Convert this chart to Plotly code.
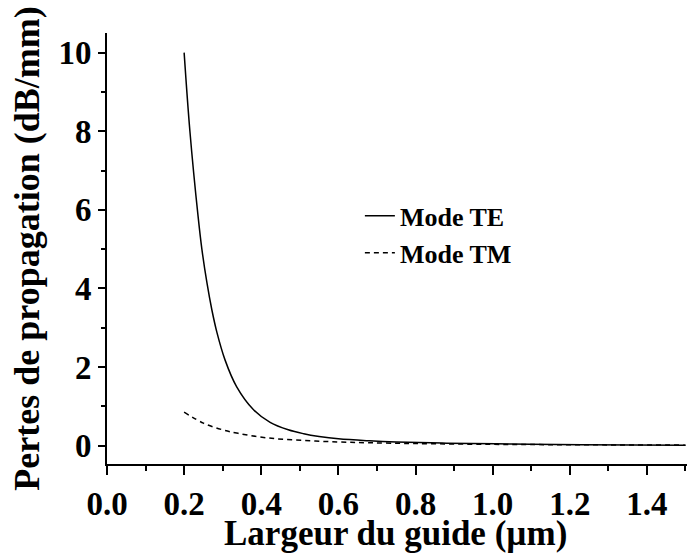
import plotly.graph_objects as go

# Propagation losses versus guide width
width_te = [0.20, 0.215, 0.236, 0.246, 0.259, 0.272, 0.285, 0.306, 0.336, 0.38,
            0.423, 0.47, 0.51, 0.55, 0.60, 0.68, 0.75, 0.88, 1.05, 1.23, 1.5]
loss_te = [10.0, 8.0, 5.85, 5.0, 4.15, 3.45, 2.88, 2.18, 1.50, 0.91,
           0.59, 0.40, 0.30, 0.23, 0.17, 0.12, 0.09, 0.06, 0.04, 0.02, 0.01]

width_tm = [0.20, 0.25, 0.30, 0.34, 0.42, 0.51, 0.60, 0.68, 0.80, 1.0, 1.2, 1.5]
loss_tm = [0.85, 0.57, 0.40, 0.31, 0.19, 0.13, 0.09, 0.07, 0.05, 0.03, 0.02, 0.01]

x_ticks = [0.0, 0.2, 0.4, 0.6, 0.8, 1.0, 1.2, 1.4]
y_ticks = [0, 2, 4, 6, 8, 10]

FONT = "Liberation Serif, Times New Roman, serif"

fig = go.Figure()
fig.add_trace(go.Scatter(
    x=width_te, y=loss_te, mode="lines", name="Mode TE",
    line=dict(color="black", width=1.5, shape="spline", smoothing=1.0),
))
fig.add_trace(go.Scatter(
    x=width_tm, y=loss_tm, mode="lines", name="Mode TM",
    line=dict(color="black", width=1.5, dash="5px,4px", shape="spline", smoothing=1.0),
))

axis_common = dict(
    showline=True, linecolor="black", linewidth=2, mirror=False,
    showgrid=False, zeroline=False, automargin=False,
    ticks="outside", tickcolor="black", tickwidth=1.5,
    tickfont=dict(family=FONT, size=33, color="black", weight="bold"),
)

fig.update_layout(
    width=688, height=553,
    margin=dict(l=107, r=1, t=33, b=89),
    paper_bgcolor="white", plot_bgcolor="white",
    font=dict(family=FONT, color="black"),
    xaxis=dict(
        **axis_common,
        range=[0, 1.504], tickmode="array", tickvals=x_ticks,
        ticktext=[f"<b>{v:.1f}</b>" for v in x_ticks], ticklen=9,
        minor=dict(dtick=0.1, tick0=0, ticks="outside", ticklen=5,
                   tickcolor="black", tickwidth=1.5),
    ),
    yaxis=dict(
        **axis_common,
        range=[-0.47, 10.5], tickmode="array", tickvals=y_ticks,
        ticktext=[f"<b>{v}</b>" for v in y_ticks], ticklen=7,
        minor=dict(dtick=1, tick0=0, ticks="outside", ticklen=4,
                   tickcolor="black", tickwidth=1.5),
        title=dict(text="<b>Pertes de propagation (dB/mm)</b>", standoff=8,
                   font=dict(family=FONT, size=36, color="black")),
    ),
    annotations=[dict(
        text="<b>Largeur du guide (µm)</b>", showarrow=False,
        xref="paper", yref="paper", x=0.4966, y=-0.162,
        xanchor="center", yanchor="middle",
        font=dict(family=FONT, size=35, color="black"),
    )],
    showlegend=True,
    legend=dict(
        x=0.436, y=0.63, xanchor="left", yanchor="top",
        bgcolor="rgba(0,0,0,0)", borderwidth=0,
        font=dict(family=FONT, size=26, color="black", weight="bold"),
        tracegroupgap=0,
    ),
)

fig.write_html("out.html")
